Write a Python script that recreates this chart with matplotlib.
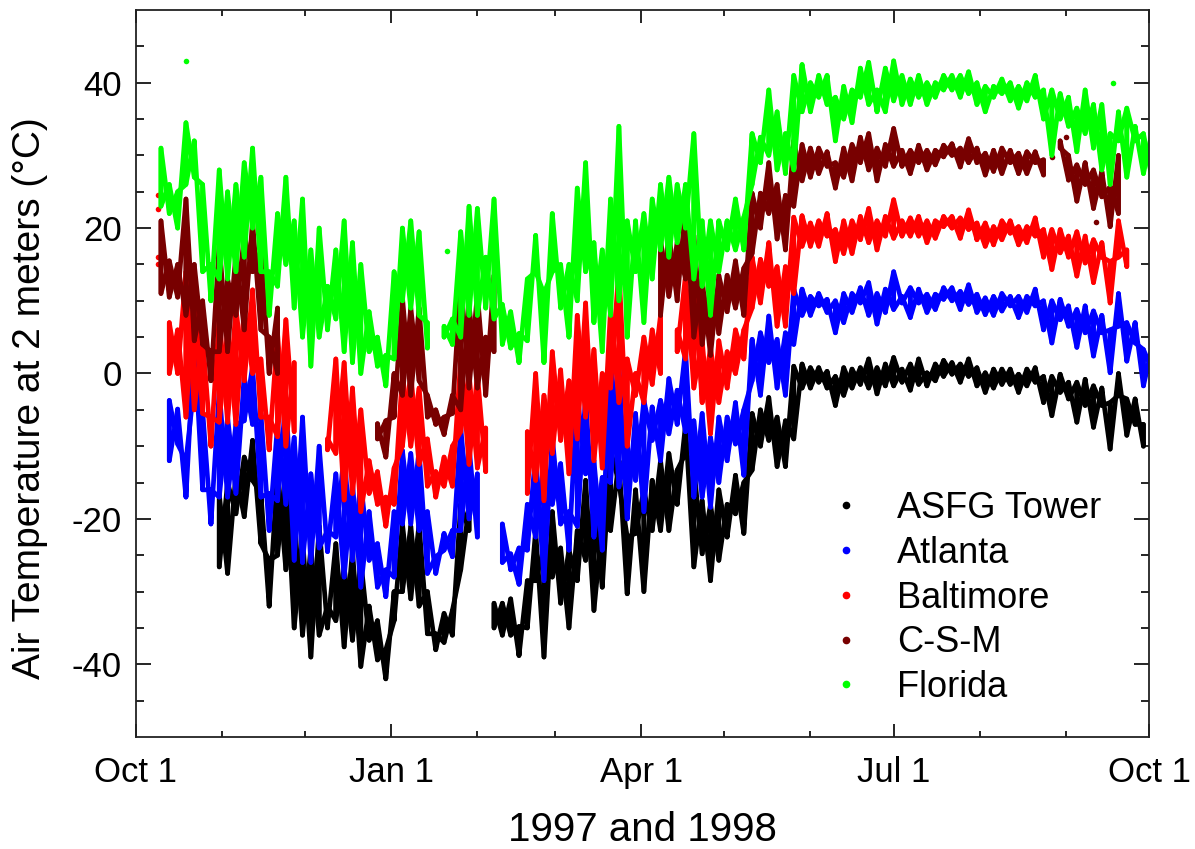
import numpy as np
import matplotlib
matplotlib.use('Agg')
import matplotlib.pyplot as plt
from matplotlib.lines import Line2D

plt.rcParams['font.family'] = ['Liberation Sans', 'DejaVu Sans']

nan = np.nan

# days since Oct 1, one column every 3 days, each station has low and high of the band
days = list(range(9, 369, 3))

tower_hi = [nan, nan, nan, nan, nan, nan, nan, -16.6, -15, -13.8,
            -11.5, -9.2, -16.5, -25.7, -13.3, -13.3, -19.3, -22.5, -24, -21,
            -32, -23.4, -26.6, -24.3, -25.7, -32, -34, -38, -30, -20.7,
            -21, -20.7, -30, -35.8, -33, -32.6, -18, -18.4, nan, nan,
            -31.6, -31.6, -31, -34.8, -28.5, -21.6, -24, -19, -24, -24.3,
            -21.6, -14.7, -18, -20.7, -10.6, -12, -22.5, -16, -16, -14.7,
            -12, -11, -13.3, -7, -12.8, -17.5, -18, -16, -18, -14,
            -15, -5.5, -5, -3.3, -6, -6.5, 1, 1.3, 0.8, 0.8,
            0.3, -0.4, 0.8, 0.6, 0.8, 2, 0.8, 1.3, 2.2, 0.6,
            1.3, 2, 0.1, 1.3, 1.8, 1.5, 1.3, 2, 0.8, 0.1,
            0.6, 0.6, 0.6, -0.1, 0.6, 0.8, -0.4, -0.4, -0.1, -1.2,
            -1.2, -0.8, -1.7, -2, -4, 0, -3.5, -3.5, -7, nan]
tower_lo = [nan, nan, nan, nan, nan, nan, nan, -26.6, -27.5, -19.3,
            -19.7, -14.7, -23.4, -32, -25, -27, -35, -36, -39, -36,
            -35, -34, -37.6, -36.7, -40.3, -36.7, -39.4, -42, -34, -30,
            -31, -32, -35.8, -38, -37, -36, -27, -21.6, nan, nan,
            -35, -36, -36, -38.8, -35, -28.5, -39, -28, -31.6, -35,
            -28.5, -25.7, -32.6, -29.4, -21.6, -15, -30.3, -22, -30, -21.6,
            -21.6, -21.6, -18, -11, -26.6, -24.8, -28.5, -25.7, -22.5, -19.3,
            -22, -13.3, -10, -9.2, -12.8, -12.8, -9, -2, -2, -1.2,
            -2, -4.4, -3, -2, -1.5, -2, -2.8, -1.7, -1.7, -1.2,
            -2.3, -1.5, -1.7, -1, -0.4, -0.1, -1.2, -0.4, -1.7, -2.6,
            -2, -1.5, -1.5, -2.6, -1.7, -1.2, -4, -5.8, -2.6, -3.5,
            -6.7, -4.4, -7.4, -4.4, -10.4, -3, -8.5, -7, -10, nan]

atlanta_hi = [nan, -3.7, -4.9, -12, 4.5, -5, -16, -2.3, -6, -7,
              -0.5, 1, -5.5, -16.5, -7, -3.3, -8.8, -6, -13.8, -10,
              -21.6, -13.8, -11, -15, -15, -19, -23.4, -27, -19, -10.6,
              -11, -10.6, -19, -25.2, -22, -21.6, -7.4, -10, -13.8, nan,
              nan, -20.7, -24.8, -24, -18, -11, -12, -8.8, -12.4, -19,
              -2.8, -3, -12, -14.3, 3.5, 1, -10, -5.5, -3.7, -4.6,
              -3.7, -0.7, -2.3, 3.3, -6.5, -5.5, -8.8, -6, -6, -4,
              -5, 4.7, 5.6, 7.9, 4.7, 5.6, 11.6, 11.6, 10.6, 11,
              10.2, 10, 11, 11, 11.8, 12.5, 11, 11.6, 14, 10.6,
              11.8, 11.6, 10.9, 10.9, 11.8, 11.8, 11.3, 12.2, 10.9, 10.4,
              10.6, 11, 10.6, 10.6, 10.6, 11.6, 10, 10, 10.2, 9.3,
              8.8, 9.3, 8.6, 8, 6, 11, 7, 7, 3.3, 3.5]
atlanta_lo = [nan, -12, -9.7, -17, -1.5, -16, -20.7, -17, -17, -16.5,
              -6.5, -7, -17, -21.6, -17.5, -18, -25.7, -26, -26, -24,
              -24.5, -22.5, -28, -25.7, -29.4, -25.7, -29.4, -30.7, -28, -20.7,
              -20.7, -21.6, -27.5, -27.5, -24.3, -25.2, -21.6, -20, -22.5, nan,
              nan, -26, -27, -29, -24.3, -22.5, -28.5, -18, -20.7, -24.3,
              -21, -13.8, -22.5, -24.3, -15, -15.6, -20, -14.7, -19, -9.2,
              -12, -8.3, -7, -8, -17, -17, -18.4, -15, -12, -9.7,
              -14, -1, -3, 1.5, -2, -3, 4, 8, 8, 9.3,
              8.4, 5.6, 7, 8.4, 9.7, 8, 6.8, 8.4, 8.8, 9.7,
              7.7, 9.7, 8.4, 8.8, 10.2, 10, 8.8, 9.5, 8.4, 8.1,
              8, 8.6, 9.3, 7.7, 8.4, 9.3, 6, 4.2, 7.4, 6.5,
              3.6, 5.6, 2.4, 5.6, 0.1, 6.5, 1.7, 4.2, -1.7, 0.6]

baltimore_hi = [nan, 7, 6, 14, 12, 5, -6, 8, 6, 9,
                9, 11.5, 2, -6, 5.5, 7.4, 1.5, nan, nan, nan,
                -9, 2, 1.5, -2, -5, -12, -13.5, -17, -13, 0,
                0, -2, -9, -13.5, -11.5, -10, 2, 0, 0, -7.5,
                nan, nan, nan, nan, -8, 0, -3, 3, 0.5, -1,
                8, 9.7, 3.3, 0, 9, 14.7, 2, 0, 5, 6,
                8, nan, 6, 13.5, 13, 4.5, 3.5, 4.5, 3, 6,
                6, 16, 15.7, 18, 14.7, 14.7, 21.5, 21.7, 20.7, 21,
                22, 19.8, 21, 21, 21.6, 22.7, 21, 21.6, 23.9, 21,
                21.4, 21.6, 21, 21, 21.6, 21.6, 21.4, 22.5, 20.7, 20.7,
                20.2, 21, 21, 20.2, 20.2, 21.4, 19.8, 19.8, 19.8, 18.9,
                19.5, 18.9, 18.4, 18, 15.4, 21, 17, nan, nan, nan]
baltimore_lo = [nan, 0, 0, -6, -5, -5.5, -10, -6.7, -6.7, -7,
                -1, 0, -6, -10.5, -8.7, -10, -8, nan, nan, nan,
                -10.5, -11, -17.4, -16.5, -19, -16.5, -18, -21, -18, -10,
                -10, -12.5, -15.5, -17, -15.5, -15.5, -8, -12.5, -13, -13.5,
                nan, nan, nan, nan, -16.5, -14.7, -17.5, -11, -9.2, -13.8,
                -9, -6, -12, -13, -2, -4, -10, -3, -4, -1.5,
                0, nan, 3, 2, -2, -4, -8.3, -4, -2, 0,
                2, 9, 9.7, 12, 6.5, 6.5, 11, 17.5, 17.5, 17.5,
                18.9, 15.4, 16.5, 16.5, 18.4, 18, 17, 18.9, 18.6, 18.9,
                18.9, 18.9, 18, 18.6, 20.2, 20, 18.6, 19.8, 18.4, 17.5,
                17.7, 18.4, 19.3, 17.7, 18, 18.9, 16, 14.3, 16.6, 16,
                13.4, 15.2, 12.5, 16, 9.7, 16, 14.7, nan, nan, nan]

csm_hi = [21, 15.5, 15, 24, 15, 10, 3, 18, 13, 16.5,
          19, 21, 17, 5, 9, nan, nan, nan, nan, nan,
          nan, nan, nan, nan, nan, nan, -6.9, -6.5, 0, 10.5,
          9, 9, -3, -5, -6, -3, 13, 9.5, 11, 5,
          13.5, nan, nan, nan, nan, nan, nan, nan, nan, nan,
          nan, nan, nan, nan, nan, nan, nan, nan, nan, nan,
          18.4, 19.3, 18, 23, 19, 13, 12.5, 13.5, 13.5, 15.5,
          14.5, 24.8, 24.8, 29, 26, 24.5, 32, 31.5, 31, 31,
          30.5, 29, 31, 31.5, 32.5, 33, 31, 31.5, 33.7, 30.7,
          30.7, 31.4, 30.7, 30.7, 31.4, 31.6, 31, 32.3, 31, 30.3,
          30.7, 31, 30.7, 30.3, 30.5, 30.5, 29.4, nan, 32, 30,
          28.7, 29, 28, 27.8, 25.7, 30, nan, nan, nan, nan]
csm_lo = [11, 10.5, 10.5, 8, 4.5, 4, -1, 3, 3, 8,
          6, 14, 6, 0, 0, nan, nan, nan, nan, nan,
          nan, nan, nan, nan, nan, nan, -9, -11.5, -6, -3,
          -3, -1, -6, -7, -8.4, -5.5, -5, -2, -2, -3,
          3, nan, nan, nan, nan, nan, nan, nan, nan, nan,
          nan, nan, nan, nan, nan, nan, nan, nan, nan, nan,
          8, 10.6, 10, 13, 5, 4, 2.5, 5.5, 8.5, 9,
          8, 16.5, 20, 22, 18.5, 17, 23, 26.5, 27, 27.5,
          28.5, 25.5, 27, 26.5, 29, 28, 26.5, 28.5, 28.5, 28.5,
          27.5, 29, 28, 28.7, 29.8, 30, 28.4, 29, 29, 27.3,
          27.8, 27.5, 29, 27.5, 27.5, 29, 27.3, nan, 31, 26.6,
          23.7, 26, 22.7, 24.3, 20.2, 22, nan, nan, nan, nan]

florida_hi = [31, 26, 25, 34.5, 32, 26, 15, 28, 25, 26,
              29, 31, 27, 14, 22, 27, 21, 24, 17, 20,
              12, 17, 21, 18, 15, 8.5, 5, 2.5, 14, 20,
              21, 19.5, 7, nan, 6.5, 7.5, 19.5, 23, 22.7, 16,
              24, 9.5, 8.5, 5.5, 13, 19, 11, 22, 15, 15,
              25.5, 29, 18, 17, 24, 34, 21, 21, 22, 24,
              26, 27, 26, 26, 33, 21, 21, 21, 21, 24,
              21.5, 33, 32.5, 39, 36, 33, 41, 42.5, 40, 41,
              41, 38, 39.5, 39, 42, 42.8, 39, 42, 43, 41,
              40.5, 41, 40, 40, 41, 41, 41, 41.5, 40, 39.5,
              39.5, 40.5, 40, 39.5, 40, 41, 39, 39, 38.5, 38,
              36.5, 39, 37, 37, 33, 36, 36.5, 34, 33, 33]
florida_lo = [23, 22, 20, 26, 27, 14, 10, 13, 13, 14,
              16, 20, 14, 8, 12, 15, 9, 5, 1, 5,
              6, 7.5, 3, 1.5, 0, 3, 1, -1.7, 2, 10,
              9, 8, 3.5, nan, 5, 4, 5, 8, 8, 9,
              7.5, 4, 3.5, 1.5, 4.5, 14, 1.5, 14, 9, 5,
              10, 14, 7, 3, 8, 10, 5, 14, 7, 13,
              17, 16, 18, 20, 13, 12, 8, 14, 17, 17,
              17, 26, 29, 30, 28, 27.5, 28, 36, 36, 38,
              37, 32, 35, 34.5, 38, 37, 36, 36, 37.5, 37,
              37, 38, 37, 38, 39, 39, 38, 38.5, 37, 36,
              38, 38.5, 37.5, 36.5, 37.5, 38, 35, 30, 35, 34,
              30.5, 33, 31, 28, 26, 32, 27, 32, 27.5, 27]

# single readings that stand away from the bands
florida_extra_d = [18, 112, 352]
florida_extra_t = [43, 16.8, 40]
baltimore_extra_d = [8, 8, 8, 8]
baltimore_extra_t = [24.5, 22.6, 16, 15]
csm_extra_d = [330, 346, 335]
csm_extra_t = [29.8, 20.8, 32.5]

names = ['ASFG Tower', 'Atlanta', 'Baltimore', 'C-S-M', 'Florida']
colors = ['#000000', '#0000ff', '#ff0000', '#780000', '#00ff00']
month_days = [31, 61, 123, 151, 212, 243, 304, 335]
major_days = [0, 92, 182, 273, 365]
major_labels = ['Oct 1', 'Jan 1', 'Apr 1', 'Jul 1', 'Oct 1']

fig = plt.figure(figsize=(11.95, 8.49), dpi=100)
ax = fig.add_axes([136 / 1195, 1 - 737 / 849, 1013 / 1195, 727 / 849])

series = [(tower_lo, tower_hi), (atlanta_lo, atlanta_hi), (baltimore_lo, baltimore_hi),
          (csm_lo, csm_hi), (florida_lo, florida_hi)]
for (lo, hi), c in zip(series, colors):
    lo = np.array(lo)
    hi = np.array(hi)
    # zigzag both ways between low and high, the fat line fills up like the dense dots do
    x = np.repeat(days, 2)
    ax.plot(x, np.column_stack((lo, hi)).ravel(), color=c, lw=3.4, solid_joinstyle='round', solid_capstyle='round')
    ax.plot(x, np.column_stack((hi, lo)).ravel(), color=c, lw=3.4, solid_joinstyle='round', solid_capstyle='round')

ax.scatter(baltimore_extra_d, baltimore_extra_t, s=16, color=colors[2], linewidths=0)
ax.scatter(csm_extra_d, csm_extra_t, s=16, color=colors[3], linewidths=0)
ax.scatter(florida_extra_d, florida_extra_t, s=16, color=colors[4], linewidths=0)

ax.set_xlim(0, 365)
ax.set_ylim(-50, 50)
ax.set_xticks(major_days)
ax.set_xticklabels(major_labels)
ax.set_xticks(month_days, minor=True)
ax.set_yticks([-40, -20, 0, 20, 40])
ax.set_yticklabels(['-40', '-20', '0', '20', '40'])
ax.set_yticks(np.arange(-45, 50, 5), minor=True)
ax.tick_params(axis='x', which='major', direction='in', length=9.5, width=1.2, labelsize=25, pad=14, top=True)
ax.tick_params(axis='x', which='minor', direction='in', length=4.5, width=1.2, top=True)
ax.tick_params(axis='y', which='major', direction='in', length=11, width=1.2, labelsize=25, pad=10, right=True)
ax.tick_params(axis='y', which='minor', direction='in', length=5.5, width=1.2, right=True)
for s in ax.spines.values():
    s.set_linewidth(1.3)
    s.set_color('#222222')

ax.set_ylabel('Air Temperature at 2 meters (°C)', fontsize=28, va='center')
ax.yaxis.set_label_coords(-0.105, 0.466)
ax.set_xlabel('1997 and 1998', fontsize=29, va='center')
ax.xaxis.set_label_coords(0.5, -0.128)

handles = [Line2D([], [], linestyle='none', marker='o', markersize=4.5, color=c) for c in colors]
ax.legend(handles, names, frameon=False, fontsize=26, loc='lower left', bbox_to_anchor=(0.683, 0.044),
          borderpad=0, borderaxespad=0, labelspacing=0.27, handletextpad=0.92, handlelength=1.0)

fig.savefig('out.png', dpi=100)
